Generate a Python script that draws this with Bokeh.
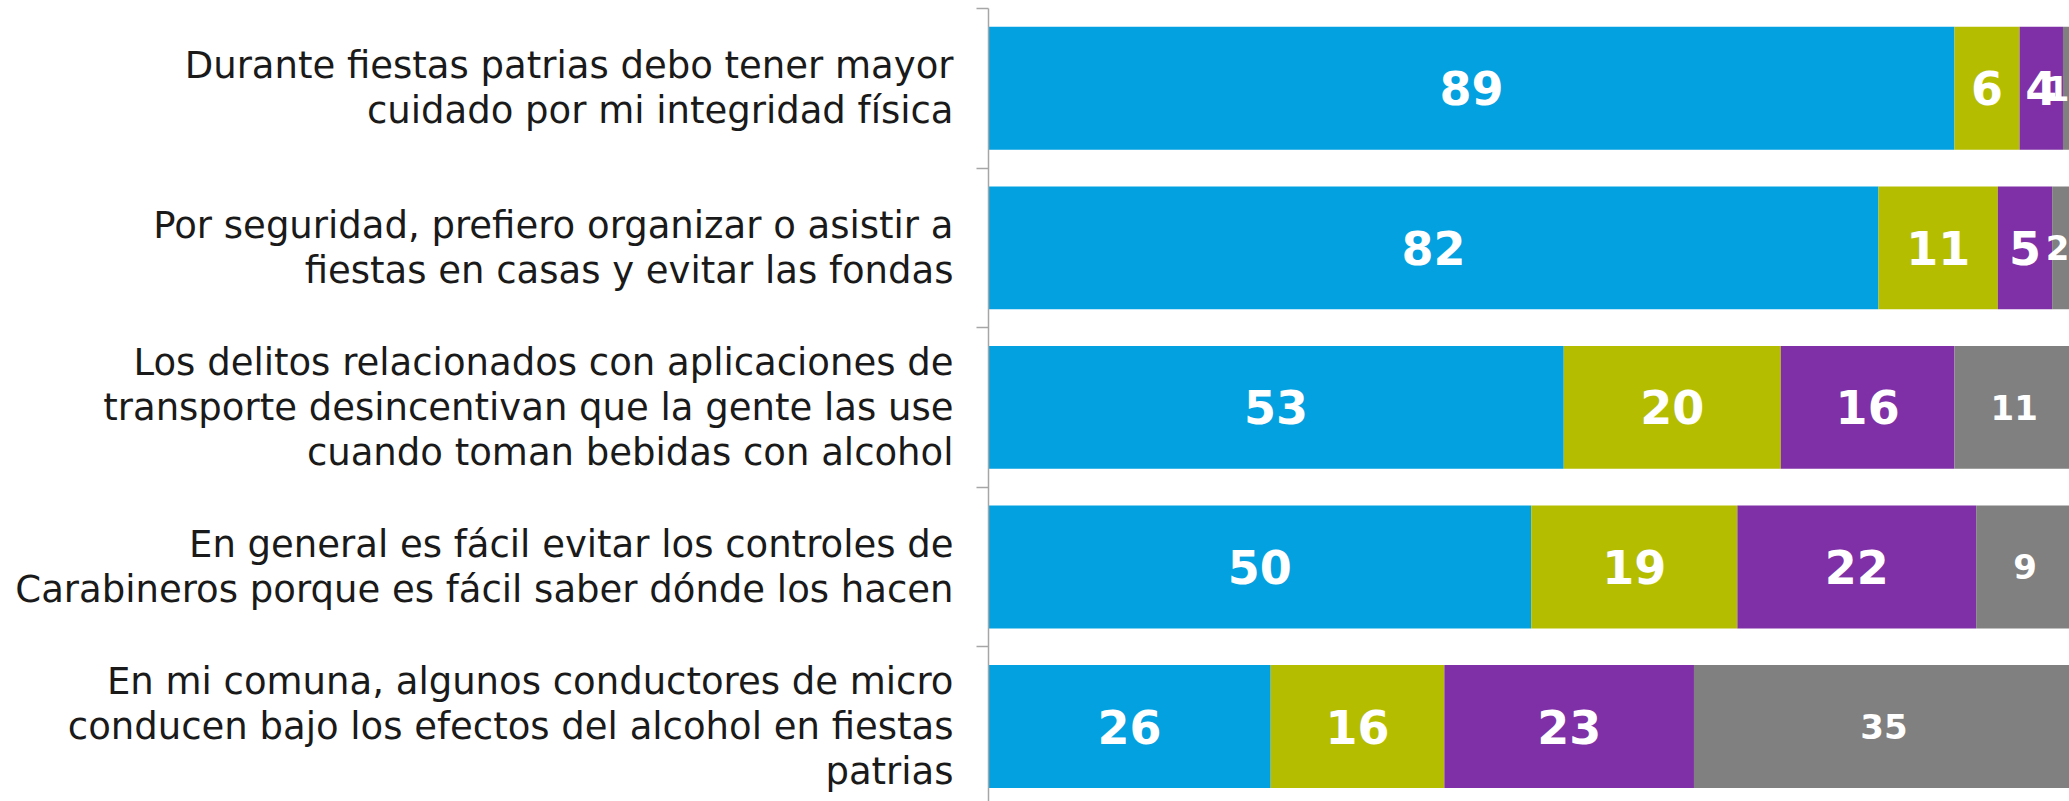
from bokeh.plotting import figure
from bokeh.models import ColumnDataSource, Range1d, FixedTicker
from bokeh.core.properties import value
from bokeh.embed import file_html
from bokeh.resources import INLINE

statements = [
    "Durante fiestas patrias debo tener mayor\ncuidado por mi integridad física",
    "Por seguridad, prefiero organizar o asistir a\nfiestas en casas y evitar las fondas",
    "Los delitos relacionados con aplicaciones de\ntransporte desincentivan que la gente las use\ncuando toman bebidas con alcohol",
    "En general es fácil evitar los controles de\nCarabineros porque es fácil saber dónde los hacen",
    "En mi comuna, algunos conductores de micro\nconducen bajo los efectos del alcohol en fiestas\npatrias",
]
series_names = ["s1", "s2", "s3", "s4"]
s1 = [89, 82, 53, 50, 26]
s2 = [6, 11, 20, 19, 16]
s3 = [4, 5, 16, 22, 23]
s4 = [1, 2, 11, 9, 35]
colors = ["#03A1E0", "#B5BD00", "#7F30A6", "#808080"]

X_END = 99.6
ypos = [i + 0.5 for i in range(len(statements))]
src = ColumnDataSource(dict(y=ypos, s1=s1, s2=s2, s3=s3, s4=s4))

p = figure(width=2069, height=801, output_backend="svg", toolbar_location=None,
           x_range=Range1d(0, X_END), y_range=Range1d(4.97, 0),
           min_border_left=988, min_border_right=0, min_border_top=8, min_border_bottom=0)
p.outline_line_color = None
p.grid.visible = False
p.xaxis.visible = False

p.hbar_stack(series_names, y="y", height=0.77, color=colors, line_color=None, source=src)

# value labels, centred in each segment (kept inside the plotting area)
all_vals = [s1, s2, s3, s4]
for k, vals in enumerate(all_vals):
    xs, ys, ts = [], [], []
    for i, v in enumerate(vals):
        left = sum(all_vals[j][i] for j in range(k))
        xs.append(min(left + v / 2, X_END - 1.1))
        ys.append(ypos[i])
        ts.append(str(v))
    size = "34px" if k == 3 else "46px"
    p.text(x=xs, y=ys, text=ts, text_color="white", text_font=value("DejaVu Sans"),
           text_font_style="bold", text_font_size=size, text_align="center",
           text_baseline="middle")

yax = p.yaxis[0]
yax.ticker = FixedTicker(ticks=ypos, minor_ticks=list(range(len(statements) + 1)))
yax.major_label_overrides = {y: s for y, s in zip(ypos, statements)}
yax.major_tick_line_color = None
yax.major_tick_out = 0
yax.major_tick_in = 0
yax.minor_tick_out = 12
yax.minor_tick_in = 0
yax.minor_tick_line_color = "#A6A6A6"
yax.minor_tick_line_width = 1.5
yax.axis_line_color = "#A6A6A6"
yax.axis_line_width = 1.5
yax.major_label_standoff = 23
yax.major_label_text_font = "DejaVu Sans"
yax.major_label_text_font_size = "37px"
yax.major_label_text_color = "#1a1a1a"
yax.major_label_text_line_height = 1.04

open("out.html", "w").write(file_html(p, INLINE))
